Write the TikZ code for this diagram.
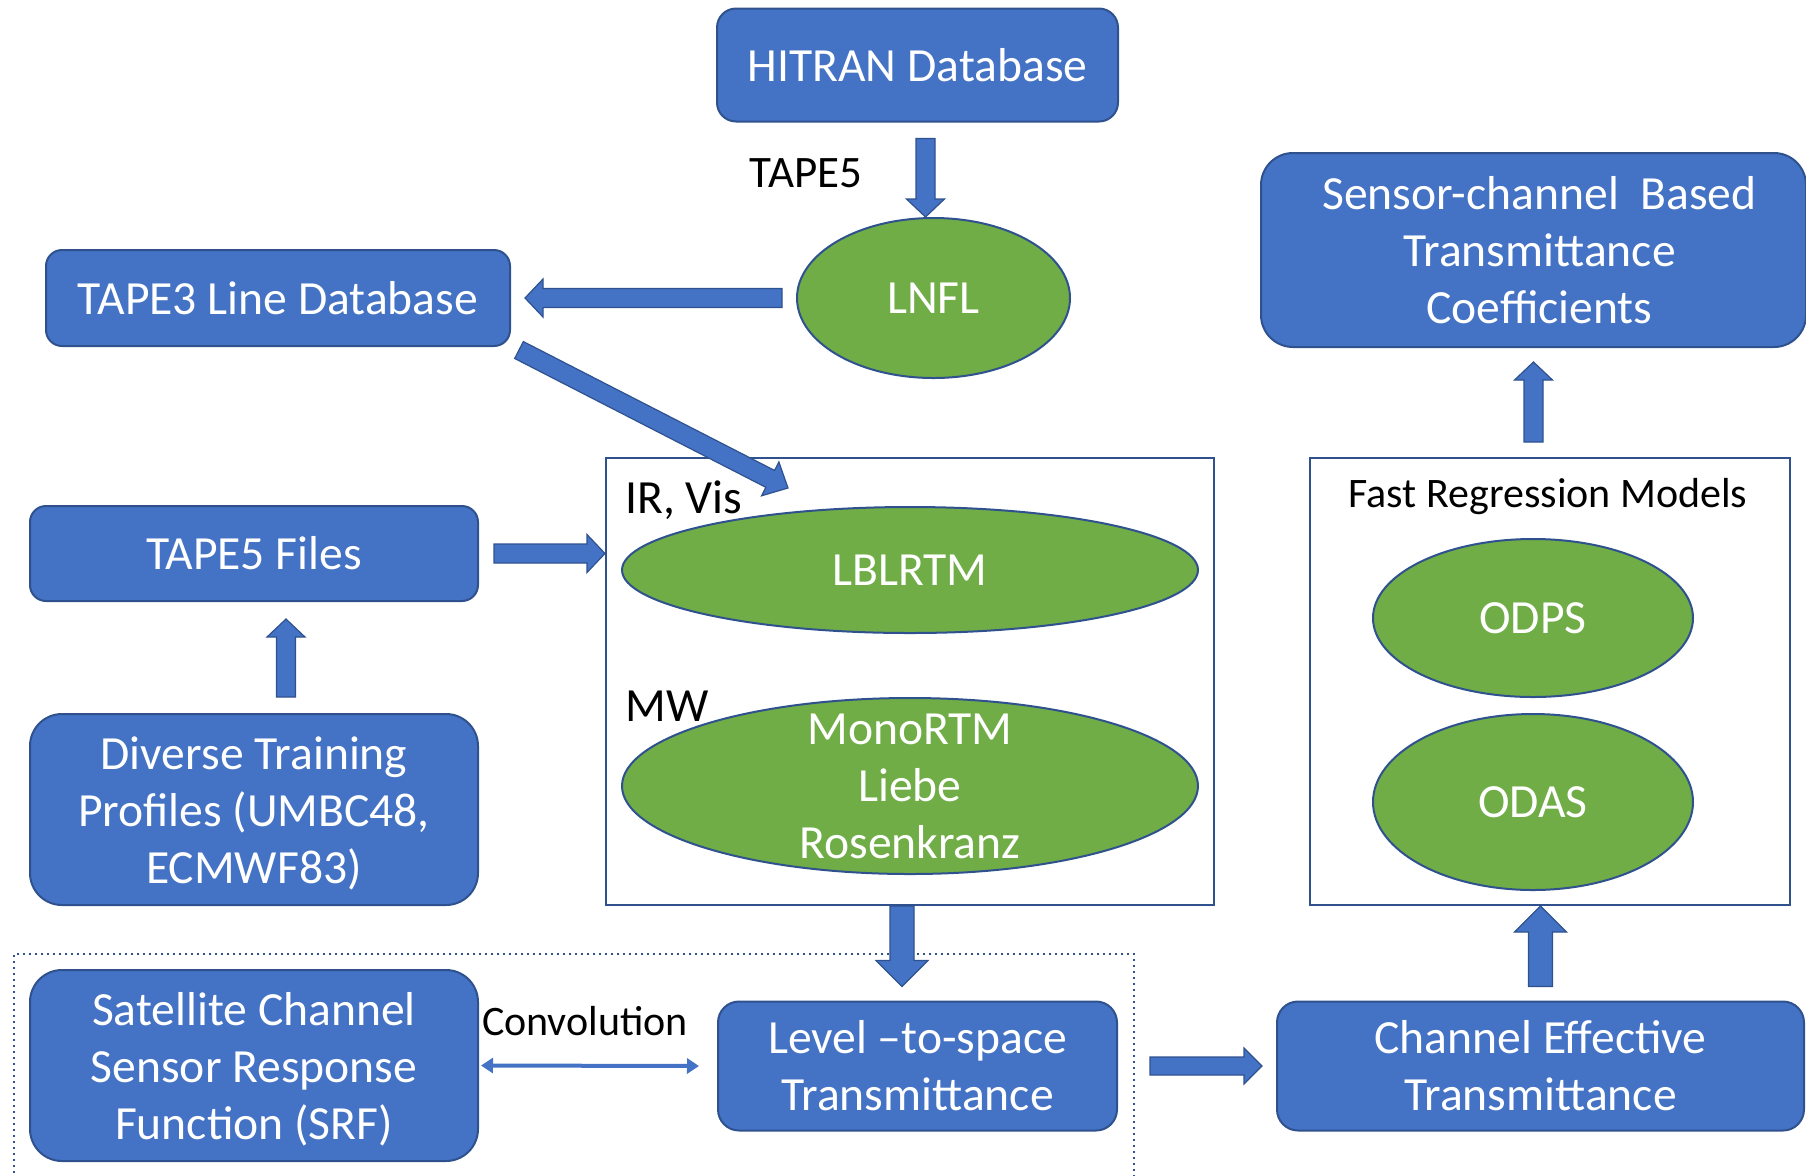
\documentclass[tikz,border=0pt]{standalone}
\usepackage{fontspec}
\setmainfont{Carlito}
\usetikzlibrary{shapes.geometric, arrows.meta, calc}

\definecolor{boxblue}{HTML}{4472C4}
\definecolor{edgeblue}{HTML}{2F528F}
\definecolor{ovalgreen}{HTML}{70AD47}

\tikzset{
  bigfont/.style={font=\fontsize{23.8}{28.5}\selectfont},
  bluebox/.style={bigfont, draw=edgeblue, fill=boxblue, line width=1pt, text=white, align=center, inner sep=0pt},
  greenoval/.style={bigfont, ellipse, draw=edgeblue, fill=ovalgreen, line width=1pt, text=white, align=center, inner sep=0pt},
  framebox/.style={draw=edgeblue, line width=1pt, inner sep=0pt},
  blacklabel/.style={bigfont, text=black, inner sep=0pt},
  fatarrow/.style={draw=edgeblue, fill=boxblue, line width=0.6pt, line join=miter},
}

% from, to, half shaft, half head, head length
\newcommand{\blockarrow}[5]{%
  \path ($(#2)!#5!(#1)$) coordinate (hb);
  \draw[fatarrow] ($(#1)!#3!90:(#2)$) -- ($(hb)!#3!90:(#2)$) -- ($(hb)!#4!90:(#2)$) -- (#2)
    -- ($(hb)!#4!-90:(#2)$) -- ($(hb)!#3!-90:(#2)$) -- ($(#1)!#3!-90:(#2)$) -- cycle;
}

\begin{document}
\begin{tikzpicture}[x=0.5pt, y=-0.5pt]
\useasboundingbox (0,0) rectangle (1806,1175);

\draw[edgeblue, dotted, line width=1pt] (14,1185) -- (14,954) -- (1134,954) -- (1134,1185);

\node[bluebox, rounded corners=9.5pt, minimum width=200.5pt, minimum height=56.5pt] (hitran) at (917.5,65) {HITRAN Database};
\node[greenoval, minimum width=136.5pt, minimum height=80pt] (lnfl) at (933.5,298) {LNFL};
\node[blacklabel, font=\fontsize{22.5}{27}\selectfont] (tapefivelabel) at (806,173) {TAPE5};

\node[bluebox, rounded corners=8pt, minimum width=232pt, minimum height=48pt] (tape3) at (278,298) {TAPE3 Line Database};
\node[bluebox, rounded corners=8pt, minimum width=224pt, minimum height=47.5pt] (tapefive) at (254,553.5) {TAPE5 Files};
\node[bluebox, rounded corners=16pt, minimum width=224pt, minimum height=95.5pt] (diverse) at (254,809.5) {};
\node[bigfont, text=white, align=center] at ([yshift=-2pt]diverse.center) {Diverse Training\\Profiles (UMBC48,\\ECMWF83)};
\node[bluebox, rounded corners=16pt, minimum width=224pt, minimum height=95.5pt] (srf) at (254,1065.5) {};
\node[bigfont, text=white, align=center] at ([yshift=-2pt]srf.center) {Satellite Channel\\Sensor Response\\Function (SRF)};

\node[framebox, minimum width=304pt, minimum height=223.5pt] (lblbox) at (910,681.5) {};
\node[blacklabel, anchor=west] (irvis) at (625,500) {IR, Vis};
\node[greenoval, minimum width=288pt, minimum height=63pt] (lblrtm) at (910,570) {LBLRTM};
\node[blacklabel, anchor=west] (mw) at (625,706) {MW};
\node[greenoval, minimum width=288pt, minimum height=88pt] (monortm) at (910,786) {};
\node[bigfont, text=white, align=center] at (monortm.center) {MonoRTM\\Liebe\\Rosenkranz};

\node[bluebox, rounded corners=10.5pt, minimum width=199.5pt, minimum height=64.5pt] (level) at (917.5,1066) {Level –to-space\\Transmittance};
\node[blacklabel, font=\fontsize{21}{25}\selectfont] (convlabel) at (585,1021) {Convolution};
\node[bluebox, rounded corners=10.5pt, minimum width=263.5pt, minimum height=64.5pt] (channel) at (1540.5,1066) {Channel Effective\\Transmittance};

\node[framebox, minimum width=240pt, minimum height=223.5pt] (fastbox) at (1550,681.5) {};
\node[blacklabel, font=\fontsize{21}{25}\selectfont] (fastlabel) at (1548,497) {Fast Regression Models};
\node[greenoval, minimum width=160pt, minimum height=79pt] (odps) at (1533,618) {ODPS};
\node[greenoval, minimum width=160pt, minimum height=88pt] (odas) at (1533,802) {ODAS};

\node[bluebox, rounded corners=16pt, minimum width=272.5pt, minimum height=97pt] (sensor) at (1533.5,250) {};
\node[bigfont, text=white, align=center] at ([xshift=3pt]sensor.center) {Sensor-channel\ \ Based\\Transmittance\\Coefficients};

\coordinate (hitranout) at ([xshift=4pt,yshift=-8pt]hitran.south);
\coordinate (lnflin) at ([xshift=-4pt]lnfl.north);
\coordinate (lnflout) at ([xshift=-7pt]lnfl.west);
\coordinate (tape3in) at ([xshift=7pt]tape3.east);
\coordinate (tape3out) at ([xshift=4pt,yshift=-1.5pt]tape3.south east);
\coordinate (irin) at ([xshift=91.5pt,yshift=-15.5pt]lblbox.north west);
\coordinate (tapefiveout) at ([xshift=7.5pt]tapefive.east);
\coordinate (diverseout) at ([xshift=16pt,yshift=8pt]diverse.north);
\coordinate (tapefivein) at ([xshift=16pt,yshift=-8.5pt]tapefive.south);
\coordinate (lblout) at ([xshift=-4pt]lblbox.south);
\coordinate (levelin) at ([yshift=7pt]lblout |- level.north);
\coordinate (levelout) at ([xshift=16pt]level.east);
\coordinate (channelin) at ([xshift=-7pt]channel.west);
\coordinate (channelout) at ([yshift=7pt]channel.north);
\coordinate (fastin) at (channelout |- fastbox.south);
\coordinate (sensorin) at ([yshift=-7pt]sensor.south);
\coordinate (fastout) at ([yshift=7.5pt]sensorin |- fastbox.north);

\blockarrow{hitranout}{lnflin}{4.75pt}{9.5pt}{9pt}
\blockarrow{lnflout}{tape3in}{4.75pt}{9.5pt}{9pt}
\blockarrow{tape3out}{irin}{4.75pt}{9.5pt}{10pt}
\blockarrow{tapefiveout}{tapefive.east -| lblbox.west}{4.75pt}{9.5pt}{9pt}
\blockarrow{diverseout}{tapefivein}{4.75pt}{9.5pt}{9pt}
\blockarrow{lblout}{levelin}{6pt}{13pt}{13pt}
\blockarrow{levelout}{channelin}{4.5pt}{9pt}{9pt}
\blockarrow{channelout}{fastin}{6pt}{13pt}{13pt}
\blockarrow{fastout}{sensorin}{4.75pt}{9.5pt}{9pt}

\draw[boxblue, line width=2pt, {Triangle[width=7.5pt,length=6pt]}-{Triangle[width=7.5pt,length=6pt]}] ([xshift=1pt]srf.east) -- ([xshift=-9pt]level.west);
\end{tikzpicture}
\end{document}
